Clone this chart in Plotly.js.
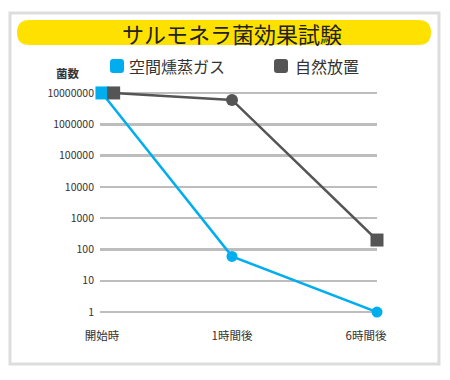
<!DOCTYPE html>
<html>
<head>
<meta charset="utf-8">
<script src="https://cdn.plot.ly/plotly-3.0.1.min.js"></script>
<style>html,body{margin:0;padding:0;background:#fff;}#chart{width:450px;height:380px;}</style>
</head>
<body>
<div id="chart"></div>
<script>
// Data
const categories = ["開始時", "1時間後", "6時間後"];
const seriesNames = ["空間燻蒸ガス", "自然放置"];
const gasValues = [10000000, 60, 1];
const naturalValues = [10000000, 6000000, 200];
const gasX = [0, 1, 2.115];
const naturalX = [0.09, 1, 2.115];
const categoryTickPos = [0, 1, 2.03];
const yTickVals = [1, 10, 100, 1000, 10000, 100000, 1000000, 10000000];
const yTickText = ["1", "10", "100", "1000", "10000", "100000", "1000000", "10000000"];
const chartTitle = "サルモネラ菌効果試験";
const yLabel = "菌数";

const W = 450, H = 380;
const M = {l: 100, r: 73, t: 87, b: 62};
const PW = W - M.l - M.r, PH = H - M.t - M.b;
const px = x => (x - M.l) / PW;
const py = y => 1 - (y - M.t) / PH;

const FONT = "'Noto Sans CJK JP', 'Noto Sans', sans-serif";
const BLUE = "#00AEEF", GRAY = "#555555";

function roundRect(x0, y0, x1, y1, r) {
  const X0 = px(x0), X1 = px(x1), Y0 = py(y0), Y1 = py(y1);
  const rx = r / PW, ry = r / PH;
  return `M${X0 + rx},${Y0} L${X1 - rx},${Y0} Q${X1},${Y0} ${X1},${Y0 - ry} L${X1},${Y1 + ry} Q${X1},${Y1} ${X1 - rx},${Y1} L${X0 + rx},${Y1} Q${X0},${Y1} ${X0},${Y1 + ry} L${X0},${Y0 - ry} Q${X0},${Y0} ${X0 + rx},${Y0} Z`;
}

const traces = [
  {
    x: gasX, y: gasValues, name: seriesNames[0], type: "scatter", mode: "lines+markers",
    line: {color: BLUE, width: 2.5},
    marker: {color: BLUE, size: [13, 11, 11], symbol: ["square", "circle", "circle"], opacity: 1, line: {width: 0}},
    cliponaxis: false, showlegend: false
  },
  {
    x: naturalX, y: naturalValues, name: seriesNames[1], type: "scatter", mode: "lines+markers",
    line: {color: GRAY, width: 2.5},
    marker: {color: GRAY, size: [13, 12, 13], symbol: ["square", "circle", "square"], opacity: 1, line: {width: 0}},
    cliponaxis: false, showlegend: false
  }
];

const layout = {
  width: W, height: H,
  margin: M,
  paper_bgcolor: "#fff", plot_bgcolor: "rgba(0,0,0,0)",
  font: {family: FONT, color: "#333"},
  showlegend: false,
  xaxis: {
    range: [-0.015, 2.115], showgrid: false, zeroline: false, showline: false,
    tickvals: categoryTickPos, ticktext: categories, ticks: "",
    ticklabelstandoff: 9,
    tickfont: {family: FONT, size: 11.5, color: "#333"}, fixedrange: true
  },
  yaxis: {
    type: "log", range: [-0.19, 7.19],
    tickvals: yTickVals, ticktext: yTickText, ticks: "",
    showgrid: true, gridcolor: "#BDBDBD", gridwidth: 2.5,
    zeroline: false, showline: false, ticklabelstandoff: 5,
    tickfont: {family: FONT, size: 10.5, color: "#333"}, fixedrange: true
  },
  shapes: [
    {type: "rect", xref: "paper", yref: "paper", x0: px(10), x1: px(439), y0: py(13), y1: py(364),
     line: {color: "#DDDDDD", width: 3}, fillcolor: "rgba(0,0,0,0)", layer: "below"},
    {type: "path", xref: "paper", yref: "paper", path: roundRect(17, 20, 431, 45, 12.5),
     fillcolor: "#FFE100", line: {width: 0}, layer: "below"},
    {type: "path", xref: "paper", yref: "paper", path: roundRect(110, 59, 124, 73, 3),
     fillcolor: BLUE, line: {width: 0}},
    {type: "path", xref: "paper", yref: "paper", path: roundRect(274, 59, 288, 73, 3),
     fillcolor: GRAY, line: {width: 0}}
  ],
  annotations: [
    {text: chartTitle, xref: "paper", yref: "paper", x: px(232), y: py(33), xanchor: "center", yanchor: "middle",
     showarrow: false, font: {family: FONT, size: 22, color: "#222"}},
    {text: seriesNames[0], xref: "paper", yref: "paper", x: px(127), y: py(66), xanchor: "left", yanchor: "middle",
     showarrow: false, font: {family: FONT, size: 16, color: "#333"}},
    {text: seriesNames[1], xref: "paper", yref: "paper", x: px(293), y: py(66), xanchor: "left", yanchor: "middle",
     showarrow: false, font: {family: FONT, size: 16, color: "#333"}},
    {text: "<b>" + yLabel + "</b>", xref: "paper", yref: "paper", x: px(68), y: py(73), xanchor: "center", yanchor: "middle",
     showarrow: false, font: {family: FONT, size: 11.5, color: "#333"}}
  ]
};

Plotly.newPlot("chart", traces, layout, {displayModeBar: false, staticPlot: true});
</script>
</body>
</html>
